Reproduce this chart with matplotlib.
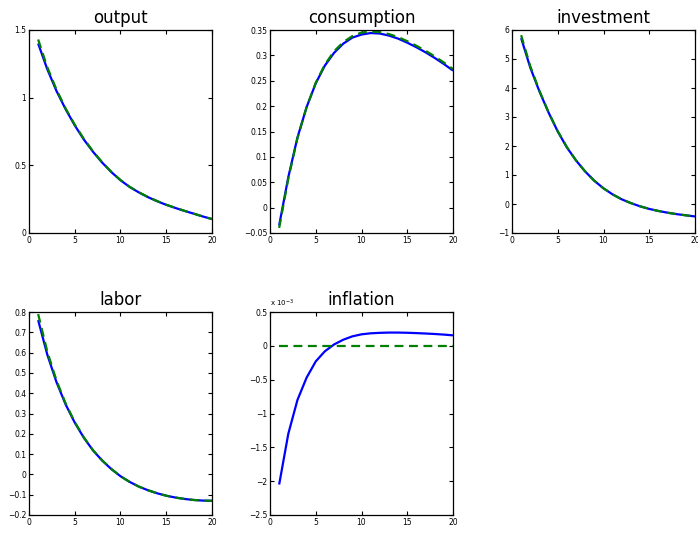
import matplotlib
matplotlib.use("Agg")
import matplotlib.pyplot as plt
from matplotlib.ticker import FuncFormatter, FixedLocator

periods = list(range(1, 21))

output_blue = [1.40, 1.21, 1.05, 0.915, 0.795, 0.69, 0.60, 0.52, 0.45, 0.39,
               0.34, 0.30, 0.265, 0.235, 0.208, 0.185, 0.163, 0.143, 0.122, 0.103]
output_green = [1.43, 1.225, 1.06, 0.92, 0.80, 0.695, 0.603, 0.522, 0.452, 0.391,
                0.341, 0.301, 0.266, 0.236, 0.209, 0.186, 0.164, 0.143, 0.122, 0.103]

cons_blue = [-0.035, 0.06, 0.138, 0.198, 0.245, 0.28, 0.305, 0.323, 0.335, 0.341,
             0.344, 0.343, 0.339, 0.333, 0.325, 0.316, 0.306, 0.295, 0.283, 0.270]
cons_green = [-0.040, 0.057, 0.137, 0.198, 0.246, 0.282, 0.308, 0.326, 0.338, 0.345,
              0.347, 0.346, 0.342, 0.336, 0.328, 0.319, 0.309, 0.298, 0.286, 0.273]

inv_blue = [5.72, 4.70, 3.88, 3.15, 2.50, 1.95, 1.50, 1.12, 0.80, 0.54,
            0.33, 0.16, 0.03, -0.08, -0.17, -0.24, -0.30, -0.35, -0.39, -0.43]
inv_green = [5.82, 4.75, 3.90, 3.16, 2.51, 1.96, 1.50, 1.12, 0.80, 0.54,
             0.33, 0.16, 0.03, -0.08, -0.17, -0.24, -0.30, -0.35, -0.39, -0.43]

labor_blue = [0.76, 0.59, 0.455, 0.345, 0.255, 0.18, 0.118, 0.068, 0.026, -0.009,
              -0.037, -0.06, -0.078, -0.093, -0.105, -0.114, -0.121, -0.126, -0.129, -0.13]
labor_green = [0.79, 0.605, 0.463, 0.35, 0.258, 0.182, 0.119, 0.069, 0.027, -0.009,
               -0.037, -0.06, -0.078, -0.093, -0.105, -0.114, -0.121, -0.126, -0.129, -0.13]

infl_blue = [-2.05e-3, -1.30e-3, -0.80e-3, -0.47e-3, -0.23e-3, -0.08e-3, 0.02e-3, 0.09e-3,
             0.14e-3, 0.17e-3, 0.185e-3, 0.192e-3, 0.196e-3, 0.196e-3, 0.193e-3, 0.188e-3,
             0.182e-3, 0.175e-3, 0.166e-3, 0.155e-3]
infl_green = [0.0] * 20

titles = ["output", "consumption", "investment", "labor", "inflation"]
xticks = [0, 5, 10, 15, 20]
yticks = [
    [0, 0.5, 1, 1.5],
    [-0.05, 0, 0.05, 0.1, 0.15, 0.2, 0.25, 0.3, 0.35],
    [-1, 0, 1, 2, 3, 4, 5, 6],
    [-0.2, -0.1, 0, 0.1, 0.2, 0.3, 0.4, 0.5, 0.6, 0.7, 0.8],
    [-2.5e-3, -2e-3, -1.5e-3, -1e-3, -0.5e-3, 0, 0.5e-3],
]
blues = [output_blue, cons_blue, inv_blue, labor_blue, infl_blue]
greens = [output_green, cons_green, inv_green, labor_green, infl_green]

W, H = 698, 534
fig = plt.figure(figsize=(W / 100, H / 100), dpi=100)

lefts = [29, 270, 512, 29, 270]
tops = [30, 30, 30, 312, 312]
aw, ah = 183, 203

def fmt(v, pos):
    s = "%g" % v
    return s.replace("-", "\u2212")

def fmt_infl(v, pos):
    s = "%g" % round(v / 1e-3, 6)
    return s.replace("-", "\u2212")

for i in range(5):
    ax = fig.add_axes([lefts[i] / W, (H - tops[i] - ah) / H, aw / W, ah / H])
    ax.plot(periods, blues[i], color=(0, 0, 1), lw=1.6, solid_capstyle="butt")
    ax.plot(periods, greens[i], color=(0, 0.5, 0), lw=1.6, ls=(0, (4, 2.5)))
    ax.set_xlim(0, 20)
    ax.set_ylim(yticks[i][0], yticks[i][-1])
    ax.xaxis.set_major_locator(FixedLocator(xticks))
    ax.yaxis.set_major_locator(FixedLocator(yticks[i]))
    ax.xaxis.set_major_formatter(FuncFormatter(fmt))
    ax.yaxis.set_major_formatter(FuncFormatter(fmt_infl if i == 4 else fmt))
    ax.tick_params(direction="in", length=3, width=0.8, labelsize=5.5,
                   top=True, right=True, pad=2, colors="black")
    for sp in ax.spines.values():
        sp.set_linewidth(0.9)
    ax.set_title(titles[i], fontsize=12, pad=5)
    if i == 4:
        ax.text(0.0, 1.015, "x 10$^{-3}$", transform=ax.transAxes,
                fontsize=5, ha="left", va="bottom")

fig.savefig("out.png", dpi=100)
